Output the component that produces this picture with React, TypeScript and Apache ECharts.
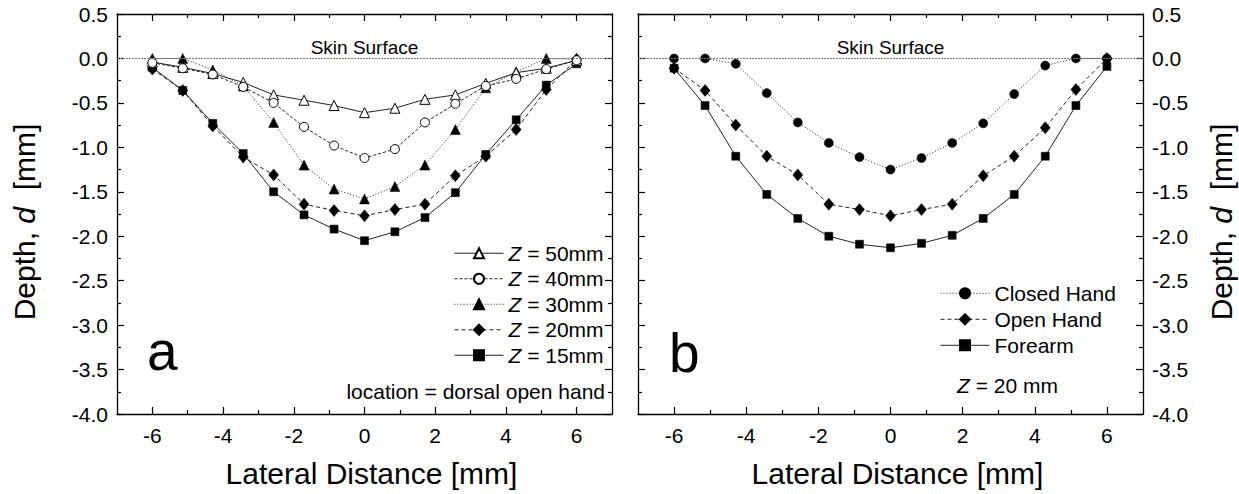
import React, { useEffect, useRef } from "react";
import * as echarts from "echarts";

const FONT = "'Liberation Sans', Arial, Helvetica, sans-serif";

// Lateral positions (mm)
const lateral = [-6, -5.14, -4.29, -3.43, -2.57, -1.71, -0.86, 0, 0.86, 1.71, 2.57, 3.43, 4.29, 5.14, 6];

// Panel a: depth (mm) at different Z
const z50 = [-0.04, -0.1, -0.17, -0.27, -0.41, -0.47, -0.53, -0.61, -0.56, -0.46, -0.41, -0.28, -0.16, -0.11, -0.02];
const z40 = [-0.05, -0.11, -0.18, -0.32, -0.5, -0.77, -0.98, -1.12, -1.02, -0.72, -0.51, -0.31, -0.23, -0.12, -0.02];
const z30 = [0.0, 0.0, -0.13, -0.31, -0.72, -1.2, -1.47, -1.58, -1.44, -1.2, -0.8, -0.33, -0.15, 0.0, -0.01];
const z20 = [-0.12, -0.36, -0.76, -1.11, -1.31, -1.64, -1.71, -1.77, -1.7, -1.64, -1.32, -1.1, -0.8, -0.35, -0.01];
const z15 = [-0.1, -0.36, -0.73, -1.07, -1.5, -1.76, -1.92, -2.05, -1.95, -1.79, -1.51, -1.08, -0.69, -0.3, -0.06];

// Panel b: depth (mm) at Z = 20 mm, different locations
const closedHand = [0.0, 0.0, -0.06, -0.39, -0.72, -0.95, -1.11, -1.25, -1.12, -0.95, -0.73, -0.4, -0.08, 0.0, 0.0];
const openHand = [-0.11, -0.36, -0.75, -1.1, -1.31, -1.64, -1.7, -1.77, -1.7, -1.64, -1.32, -1.1, -0.78, -0.35, 0.0];
const forearm = [-0.11, -0.53, -1.1, -1.53, -1.8, -2.0, -2.09, -2.13, -2.08, -1.99, -1.8, -1.53, -1.1, -0.53, -0.09];

const namesA = ["Z = 50mm", "Z = 40mm", "Z = 30mm", "Z = 20mm", "Z = 15mm"];
const namesB = ["Closed Hand", "Open Hand", "Forearm"];

const xMajorTicks = [-6, -4, -2, 0, 2, 4, 6];
const xMinorTicks = [-5, -3, -1, 1, 3, 5];
const xTitle = "Lateral Distance [mm]";
const refLabel = "Skin Surface";

const BLACK = "#000";
const LINE = "#222";

function pairs(vals: number[]) {
  return lateral.map((x, i) => [x, vals[i]]);
}

function xAxes(grid: number) {
  const base = {
    type: "value",
    gridIndex: grid,
    min: -7,
    max: 7,
    interval: 1,
    splitLine: { show: false },
  };
  const line = { show: true, onZero: false, lineStyle: { color: BLACK, width: 1.3 } };
  const noLine = { show: false, onZero: false };
  return [
    {
      ...base,
      position: "bottom",
      axisLine: line,
      axisTick: { show: true, inside: true, length: 7, customValues: xMajorTicks, lineStyle: { color: BLACK, width: 1.2 } },
      axisLabel: {
        show: true,
        customValues: xMajorTicks,
        formatter: (v: number) => String(v),
        fontSize: 21,
        margin: 11,
        color: BLACK,
        fontFamily: FONT,
      },
      name: xTitle,
      nameLocation: "middle",
      nameGap: 44,
      nameTextStyle: { fontSize: 30, color: BLACK, fontFamily: FONT, padding: [0, 0, 0, 14] },
    },
    {
      ...base,
      position: "bottom",
      axisLine: noLine,
      axisTick: { show: true, inside: true, length: 4, customValues: xMinorTicks, lineStyle: { color: BLACK, width: 1.2 } },
      axisLabel: { show: false },
    },
    {
      ...base,
      position: "top",
      axisLine: line,
      axisTick: { show: true, inside: true, length: 7, customValues: xMajorTicks, lineStyle: { color: BLACK, width: 1.2 } },
      axisLabel: { show: false },
    },
    {
      ...base,
      position: "top",
      axisLine: noLine,
      axisTick: { show: true, inside: true, length: 4, customValues: xMinorTicks, lineStyle: { color: BLACK, width: 1.2 } },
      axisLabel: { show: false },
    },
  ];
}

function yAxes(grid: number, labelSide: "left" | "right") {
  const base = {
    type: "value",
    gridIndex: grid,
    min: -4,
    max: 0.5,
    interval: 0.5,
    splitLine: { show: false },
    axisLine: { show: true, onZero: false, lineStyle: { color: BLACK, width: 1.3 } },
    axisTick: { show: true, inside: true, length: 7, lineStyle: { color: BLACK, width: 1.2 } },
    minorTick: { show: true, splitNumber: 2, length: 4, lineStyle: { color: BLACK, width: 1.2 } },
  };
  return [
    {
      ...base,
      position: labelSide,
      axisLabel: {
        show: true,
        formatter: (v: number) => v.toFixed(1),
        fontSize: 21,
        margin: 9,
        color: BLACK,
        fontFamily: FONT,
      },
    },
    {
      ...base,
      position: labelSide === "left" ? "right" : "left",
      axisLabel: { show: false },
    },
  ];
}

function mkSeries(
  name: string,
  vals: number[],
  grid: number,
  symbol: string,
  size: number | number[],
  filled: boolean,
  dash: any
) {
  return {
    type: "line",
    name,
    xAxisIndex: grid * 4,
    yAxisIndex: grid * 2,
    data: pairs(vals),
    symbol,
    symbolSize: size,
    showAllSymbol: true,
    lineStyle: { color: LINE, width: 1, type: dash },
    itemStyle: filled
      ? { color: BLACK, borderColor: BLACK, borderWidth: 0.5 }
      : { color: "#fff", borderColor: BLACK, borderWidth: 1 },
    emphasis: { disabled: true },
    z: filled ? 3 : 4,
  };
}

function skinMark() {
  return {
    silent: true,
    symbol: ["none", "none"],
    lineStyle: { color: "#777", type: [2, 1], width: 1 },
    label: {
      show: true,
      formatter: refLabel,
      position: "insideMiddleTop",
      distance: 1,
      fontSize: 19,
      color: BLACK,
      fontFamily: FONT,
    },
    data: [{ yAxis: 0 }],
  };
}

const richBase = (size: number, lh: number) => ({
  it: { fontStyle: "italic", fontSize: size, lineHeight: lh, fontFamily: FONT, color: BLACK },
  n: { fontSize: size, lineHeight: lh, fontFamily: FONT, color: BLACK },
});

const seriesA = [
  mkSeries(namesA[0], z50, 0, "triangle", 10, false, "solid"),
  mkSeries(namesA[1], z40, 0, "circle", 9, false, [3, 2]),
  mkSeries(namesA[2], z30, 0, "triangle", 10, true, [1, 2]),
  mkSeries(namesA[3], z20, 0, "diamond", [10, 12], true, [4, 3]),
  mkSeries(namesA[4], z15, 0, "rect", 8, true, "solid"),
];
(seriesA[0] as any).markLine = skinMark();

const seriesB = [
  mkSeries(namesB[0], closedHand, 1, "circle", 9, true, [1, 2]),
  mkSeries(namesB[1], openHand, 1, "diamond", [10, 12], true, [4, 3]),
  mkSeries(namesB[2], forearm, 1, "rect", 8, true, "solid"),
];
(seriesB[0] as any).markLine = skinMark();

const yTitleRich = {
  text: "{n|Depth, }{it|d}{n|  [mm]}",
  rich: richBase(30, 34),
  align: "center",
  verticalAlign: "middle",
};

const option = {
  animation: false,
  backgroundColor: "#fff",
  textStyle: { fontFamily: FONT },
  grid: [
    { left: 117, top: 14, width: 495, height: 400 },
    { left: 638, top: 14, width: 505, height: 400 },
  ],
  xAxis: [...xAxes(0), ...xAxes(1)],
  yAxis: [...yAxes(0, "left"), ...yAxes(1, "right")],
  legend: [
    {
      data: namesA,
      orient: "vertical",
      left: 454,
      top: 240.5,
      padding: 0,
      itemGap: 0,
      itemWidth: 49,
      itemHeight: 12.5,
      selectedMode: false,
      lineStyle: { width: 1 },
      formatter: (name: string) => "{it|Z}{n|" + name.slice(1) + "}",
      textStyle: { fontSize: 21, lineHeight: 25.5, color: BLACK, fontFamily: FONT, rich: richBase(21, 25.5) },
    },
    {
      data: namesB,
      orient: "vertical",
      left: 940,
      top: 280.3,
      padding: 0,
      itemGap: 0,
      itemWidth: 49,
      itemHeight: 12.5,
      selectedMode: false,
      lineStyle: { width: 1 },
      textStyle: { fontSize: 21, lineHeight: 26, color: BLACK, fontFamily: FONT },
    },
  ],
  graphic: [
    { type: "text", x: 24, y: 222, rotation: Math.PI / 2, style: { ...yTitleRich } },
    { type: "text", x: 1221, y: 222, rotation: Math.PI / 2, style: { ...yTitleRich } },
    {
      type: "text",
      x: 147,
      y: 351,
      style: { text: "a", fontSize: 55, fontFamily: FONT, fill: BLACK, align: "left", verticalAlign: "middle" },
    },
    {
      type: "text",
      x: 669,
      y: 353,
      style: { text: "b", fontSize: 55, fontFamily: FONT, fill: BLACK, align: "left", verticalAlign: "middle" },
    },
    {
      type: "text",
      x: 605,
      y: 391,
      style: {
        text: "location = dorsal open hand",
        fontSize: 21,
        fontFamily: FONT,
        fill: BLACK,
        align: "right",
        verticalAlign: "middle",
      },
    },
    {
      type: "text",
      x: 957,
      y: 385,
      style: {
        text: "{it|Z}{n| = 20 mm}",
        rich: richBase(21, 24),
        align: "left",
        verticalAlign: "middle",
      },
    },
  ],
  series: [...seriesA, ...seriesB],
};

export default function App() {
  const ref = useRef<HTMLDivElement>(null);
  useEffect(() => {
    if (!ref.current) return;
    const chart = echarts.init(ref.current, null, { renderer: "svg" });
    chart.setOption(option as any);
    return () => chart.dispose();
  }, []);
  return (
    <div
      ref={ref}
      style={{ position: "fixed", left: 0, top: 0, width: 1239, height: 494, background: "#fff" }}
    />
  );
}
